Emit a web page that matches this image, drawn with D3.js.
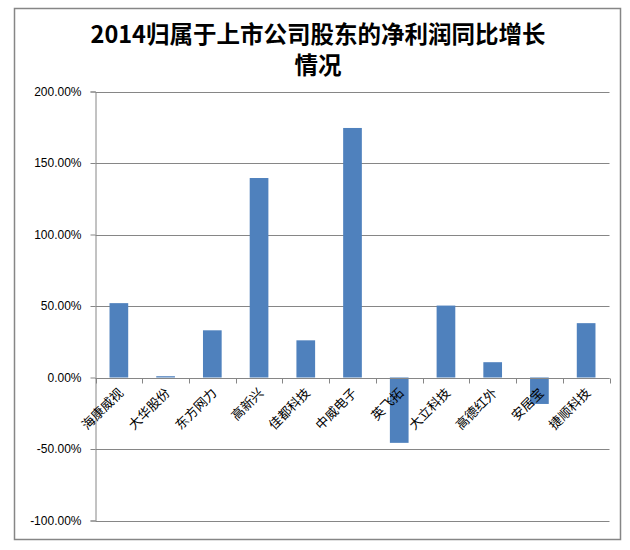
<!DOCTYPE html>
<html>
<head>
<meta charset="utf-8">
<script src="https://cdn.jsdelivr.net/npm/d3@7"></script>
<style>
  body { margin: 0; background: #fff; }
</style>
</head>
<body>
<div id="chart"></div>
<script>
// data
const companies = ["海康威视", "大华股份", "东方网力", "高新兴", "佳都科技", "中威电子",
                   "英飞拓", "大立科技", "高德红外", "安居宝", "捷顺科技"];
const growth = [52.0, 0.9, 33.0, 139.5, 26.0, 174.5, -45.7, 50.3, 10.7, -18.5, 38.0];
const yTicks = [-100, -50, 0, 50, 100, 150, 200];
const titleLines = ["2014归属于上市公司股东的净利润同比增长", "情况"];

const W = 630, H = 550;
const plot = { left: 95.5, right: 609.5, top: 91.5, bottom: 520.5 };

const svg = d3.select("#chart").append("svg")
  .attr("width", W)
  .attr("height", H);

// outer chart frame
svg.append("rect")
  .attr("x", 14.5).attr("y", 8.5)
  .attr("width", 606).attr("height", 531)
  .attr("fill", "#fff")
  .attr("stroke", "#868686")
  .attr("stroke-width", 1.5);

// title
svg.append("text")
  .attr("x", 318).attr("y", 43)
  .attr("text-anchor", "middle")
  .attr("font-family", "'Noto Sans CJK SC', sans-serif")
  .attr("font-weight", "bold")
  .attr("font-size", "23.5px")
  .attr("fill", "#000")
  .selectAll("tspan")
  .data(titleLines)
  .enter().append("tspan")
    .attr("x", 318)
    .attr("dy", (d, i) => i === 0 ? 0 : 31)
    .text(d => d);

// scales
const x = d3.scaleBand()
  .domain(companies)
  .range([plot.left, plot.right])
  .paddingInner(0.6)
  .paddingOuter(0.3);

const xCat = d3.scaleBand()
  .domain(companies)
  .range([plot.left, plot.right]);

const y = d3.scaleLinear()
  .domain([-100, 200])
  .range([plot.bottom, plot.top]);

// y axis
const yAxisG = svg.append("g")
  .attr("transform", `translate(${plot.left},0)`)
  .call(d3.axisLeft(y)
    .tickValues(yTicks)
    .tickSize(5)
    .tickPadding(9)
    .tickFormat(d => d.toFixed(2) + "%"));

yAxisG.select(".domain").attr("stroke", "#868686");
yAxisG.selectAll(".tick line").attr("stroke", "#868686");
yAxisG.selectAll(".tick text")
  .attr("fill", "#000")
  .attr("font-family", "'Liberation Sans', Arial, sans-serif")
  .attr("font-size", "12px");

// horizontal gridlines
svg.append("g")
  .selectAll("line")
  .data(yTicks)
  .enter().append("line")
    .attr("x1", plot.left)
    .attr("x2", plot.right)
    .attr("y1", d => Math.round(y(d)) + 0.5)
    .attr("y2", d => Math.round(y(d)) + 0.5)
    .attr("stroke", "#868686")
    .attr("stroke-width", 1);

// bars
svg.append("g")
  .selectAll("rect")
  .data(growth)
  .enter().append("rect")
    .attr("x", (d, i) => x(companies[i]))
    .attr("width", x.bandwidth())
    .attr("y", d => y(Math.max(0, d)))
    .attr("height", d => Math.abs(y(d) - y(0)))
    .attr("fill", "#4f81bd");

// x axis at zero, ticks between categories
const boundaries = companies.map(c => xCat(c)).concat([plot.right]);
const xAxisG = svg.append("g");
xAxisG.append("line")
  .attr("x1", plot.left).attr("x2", plot.right)
  .attr("y1", Math.round(y(0)) + 0.5).attr("y2", Math.round(y(0)) + 0.5)
  .attr("stroke", "#868686");
xAxisG.selectAll("line.tick")
  .data(boundaries)
  .enter().append("line")
    .attr("class", "tick")
    .attr("x1", d => Math.round(d) + 0.5)
    .attr("x2", d => Math.round(d) + 0.5)
    .attr("y1", Math.round(y(0)) + 0.5)
    .attr("y2", Math.round(y(0)) + 5.5)
    .attr("stroke", "#868686");

// rotated category labels
svg.append("g")
  .selectAll("text")
  .data(companies)
  .enter().append("text")
    .attr("transform", d => `translate(${xCat(d) + xCat.bandwidth() / 2 + 2},${y(0) + 13}) rotate(-45)`)
    .attr("text-anchor", "end")
    .attr("dy", "0.35em")
    .attr("font-family", "'Noto Sans CJK SC', sans-serif")
    .attr("font-size", "13px")
    .attr("fill", "#000")
    .text(d => d);
</script>
</body>
</html>
